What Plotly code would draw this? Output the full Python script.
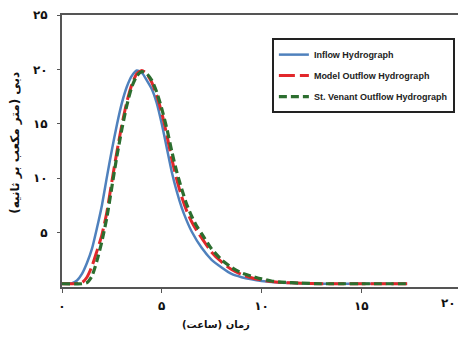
import plotly.graph_objects as go

# ---- data (hours, m3/s) ----
t_in = [0, 0.5, 0.75, 1.0, 1.25, 1.5, 1.75, 2.0, 2.25, 2.5, 2.75, 3.0, 3.25, 3.5, 3.75,
        4.0, 4.25, 4.5, 4.75, 5.0, 5.25, 5.5, 5.75, 6.0, 6.25, 6.5, 7.0, 7.5, 8.0, 8.5,
        9.0, 9.5, 10.0, 10.5, 11.0, 12.0, 13.0, 14.0, 15.0, 16.0, 17.3]
q_in = [0.3, 0.35, 0.6, 1.2, 2.2, 3.5, 5.4, 7.5, 10.1, 12.6, 14.9, 16.9, 18.4, 19.4, 19.9,
        19.7, 19.0, 18.2, 16.9, 15.0, 12.8, 10.6, 8.8, 7.3, 6.1, 5.1, 3.6, 2.5, 1.8, 1.2,
        0.9, 0.7, 0.55, 0.45, 0.4, 0.35, 0.3, 0.3, 0.3, 0.3, 0.3]

t_model = [0, 0.5, 1.0, 1.25, 1.5, 1.75, 2.0, 2.25, 2.5, 2.75, 3.0, 3.25, 3.5, 3.75, 4.0,
           4.25, 4.5, 4.75, 5.0, 5.25, 5.5, 5.75, 6.0, 6.25, 6.5, 6.75, 7.0, 7.5, 8.0, 8.5,
           9.0, 9.5, 10.0, 10.5, 11.0, 12.0, 13.0, 14.0, 15.0, 16.0, 17.3]
q_model = [0.3, 0.3, 0.4, 0.9, 1.9, 3.3, 4.8, 6.9, 9.7, 12.4, 14.9, 17.0, 18.6, 19.6, 19.9,
           19.6, 18.8, 17.6, 16.0, 14.0, 11.8, 9.9, 8.3, 7.0, 6.0, 5.2, 4.5, 3.2, 2.3, 1.6,
           1.15, 0.85, 0.65, 0.5, 0.42, 0.35, 0.3, 0.3, 0.3, 0.3, 0.3]

t_sv = [0, 1.0, 1.25, 1.5, 1.75, 2.0, 2.25, 2.5, 2.75, 3.0, 3.25, 3.5, 3.75, 4.0, 4.25,
        4.5, 4.75, 5.0, 5.25, 5.5, 5.75, 6.0, 6.25, 6.5, 6.75, 7.0, 7.5, 8.0, 8.5, 9.0,
        9.5, 10.0, 10.5, 11.0, 12.0, 13.0, 14.0, 15.0, 16.0, 17.3]
q_sv = [0.3, 0.3, 0.4, 1.0, 2.4, 4.2, 6.4, 9.2, 12.0, 14.5, 16.7, 18.4, 19.4, 19.8, 19.6,
        19.0, 17.9, 16.4, 14.6, 12.5, 10.6, 9.0, 7.6, 6.5, 5.6, 4.9, 3.5, 2.5, 1.8, 1.3,
        1.0, 0.75, 0.55, 0.45, 0.35, 0.3, 0.3, 0.3, 0.3, 0.3]

x_tickvals = [0, 5, 10, 15]
x_ticktext = ["۰", "۵", "۱۰", "۱۵"]
x_extra_label = "۲۰"
y_tickvals = [5, 10, 15, 20, 25]
y_ticktext = ["۵", "۱۰", "۱۵", "۲۰", "۲۵"]

series_names = ["Inflow Hydrograph", "Model Outflow Hydrograph", "St. Venant Outflow Hydrograph"]
x_title = "زمان (ساعت)"
y_title = "دبی (متر مکعب بر ثانیه)"

fig = go.Figure()
fig.add_trace(go.Scatter(x=t_in, y=q_in, mode="lines", name=series_names[0],
                         line=dict(color="#4F81BD", width=2.5, shape="spline", smoothing=0.6),
                         legendgroup="a"))
fig.add_trace(go.Scatter(x=t_model, y=q_model, mode="lines", name=series_names[1],
                         line=dict(color="#E2272B", width=3, dash="16px,5px", shape="spline", smoothing=0.6),
                         legendgroup="b"))
fig.add_trace(go.Scatter(x=t_sv, y=q_sv, mode="lines", name=series_names[2],
                         line=dict(color="#2C6E2F", width=3.2, dash="8px,4px", shape="spline", smoothing=0.6),
                         legendgroup="c"))

tickfont = dict(family="DejaVu Sans", size=12, color="#111", weight="bold")

fig.update_layout(
    width=458, height=338,
    margin=dict(l=62, r=0, t=15, b=51),
    paper_bgcolor="white", plot_bgcolor="white",
    showlegend=True,
    legend=dict(x=0.53, y=0.915, xanchor="left", yanchor="top",
                bgcolor="white", bordercolor="#222", borderwidth=2,
                font=dict(family="Liberation Sans", size=9, color="#222", weight="bold"),
                tracegroupgap=2, traceorder="grouped"),
    xaxis=dict(range=[0, 19.85], tickvals=x_tickvals, ticktext=x_ticktext,
               showgrid=False, zeroline=False, showline=True, linecolor="#555", linewidth=2,
               mirror=True, ticks="outside", ticklen=4, tickcolor="#555",
               tickfont=tickfont, ticklabelstandoff=3),
    yaxis=dict(range=[0, 25], tickvals=y_tickvals, ticktext=y_ticktext,
               showgrid=False, zeroline=False, showline=True, linecolor="#555", linewidth=2,
               ticks="outside", ticklen=3, tickcolor="#555",
               tickfont=tickfont, ticklabelstandoff=7),
    annotations=[
        dict(text=x_extra_label, xref="paper", yref="paper", x=1.0, y=-0.058,
             xanchor="right", yanchor="middle", showarrow=False, font=tickfont),
        dict(text=x_title, xref="paper", yref="paper", x=0.39, y=-0.14,
             xanchor="center", yanchor="middle", showarrow=False,
             font=dict(family="DejaVu Sans", size=10, color="#111", weight="bold")),
        dict(text=y_title, xref="paper", yref="paper", x=-0.119, y=0.53,
             xanchor="center", yanchor="middle", showarrow=False, textangle=-90,
             font=dict(family="DejaVu Sans", size=12, color="#111", weight="bold")),
    ],
)

fig.write_html("out.html")
